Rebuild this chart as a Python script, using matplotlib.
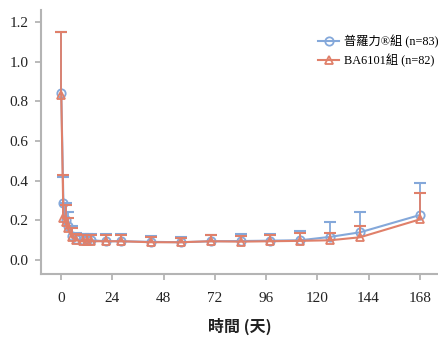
import numpy as np
import matplotlib
matplotlib.use("Agg")
import matplotlib.pyplot as plt
from matplotlib.lines import Line2D

# 資料
days = [0, 1, 2, 3, 5, 7, 10, 12, 14, 21, 28, 42, 56, 70, 84, 98, 112, 126, 140, 168]

prolia_mean = [0.84, 0.29, 0.20, 0.17, 0.12, 0.105, 0.10, 0.10, 0.10, 0.095, 0.095, 0.092,
               0.09, 0.095, 0.096, 0.098, 0.10, 0.117, 0.14, 0.227]
prolia_upper = [1.15, 0.42, 0.29, 0.24, 0.17, 0.135, 0.13, 0.13, 0.13, 0.13, 0.13, 0.12,
                0.118, 0.125, 0.13, 0.13, 0.146, 0.19, 0.24, 0.39]

ba_mean = [0.83, 0.21, 0.19, 0.16, 0.115, 0.10, 0.095, 0.095, 0.095, 0.095, 0.095, 0.09,
           0.09, 0.095, 0.093, 0.095, 0.097, 0.10, 0.115, 0.205]
ba_upper = [1.15, 0.43, 0.28, 0.21, 0.16, 0.13, 0.125, 0.125, 0.125, 0.125, 0.125, 0.115,
            0.112, 0.125, 0.12, 0.125, 0.135, 0.135, 0.17, 0.34]

labels = ["普羅力®組 (n=83)", "BA6101組 (n=82)"]
xticks = [0, 24, 48, 72, 96, 120, 144, 168]
yticks = [0.0, 0.2, 0.4, 0.6, 0.8, 1.0, 1.2]

blue = "#84a8da"
red = "#e0806a"
grey = "#b4b4b4"
fonts = ["Liberation Serif", "Noto Sans CJK TC"]

fig = plt.figure(figsize=(4.39, 3.38), dpi=100)
ax = fig.add_axes([41 / 439, 1 - 274 / 338, 1 - 41 / 439, (274 - 10) / 338])

series = [(prolia_mean, prolia_upper, blue, "o"), (ba_mean, ba_upper, red, "^")]
handles = []
for mean, upper, col, mk in series:
    # 只畫上方誤差線 (mean + SD)
    ax.vlines(days, mean, upper, color=col, linewidth=1.3)
    ax.plot(days, upper, linestyle="none", marker="_", markersize=8.5, markeredgewidth=1.5,
            color=col)
    ax.plot(days, mean, color=col, marker=mk, markersize=6, markerfacecolor="none",
            markeredgewidth=1.3, linewidth=1.5)
    handles.append(Line2D([], [], color=col, marker=mk, markersize=6, markerfacecolor="none",
                          markeredgewidth=1.3, linewidth=1.5))

ax.set_xlim(-9.5, 177)
ax.set_ylim(-0.07, 1.26)
ax.set_xticks(xticks)
ax.set_yticks(yticks)
ax.set_xticklabels([str(t) for t in xticks])
ax.set_yticklabels([f"{t:.1f}" for t in yticks])

for s in ["top", "right"]:
    ax.spines[s].set_visible(False)
for s in ["left", "bottom"]:
    ax.spines[s].set_color(grey)
    ax.spines[s].set_linewidth(1.5)

ax.tick_params(axis="both", direction="out", color=grey, width=1.3, length=4,
               labelsize=11, labelcolor="#222222")
ax.tick_params(axis="x", pad=9)
ax.tick_params(axis="y", pad=5)
for lbl in ax.get_xticklabels() + ax.get_yticklabels():
    lbl.set_family(fonts)

ax.set_xlabel("時間 (天)", family=["Noto Sans CJK TC"], fontsize=11.5, fontweight="bold",
              color="#222222", labelpad=9)

fig.legend(handles, labels, loc="center left", bbox_to_anchor=(318 / 439, 1 - 51 / 338),
           frameon=False, borderpad=0, borderaxespad=0, handlelength=1.75,
           handletextpad=0.4, labelspacing=0.5,
           prop={"family": fonts, "size": 8.8})

fig.savefig("out.png", dpi=100)
